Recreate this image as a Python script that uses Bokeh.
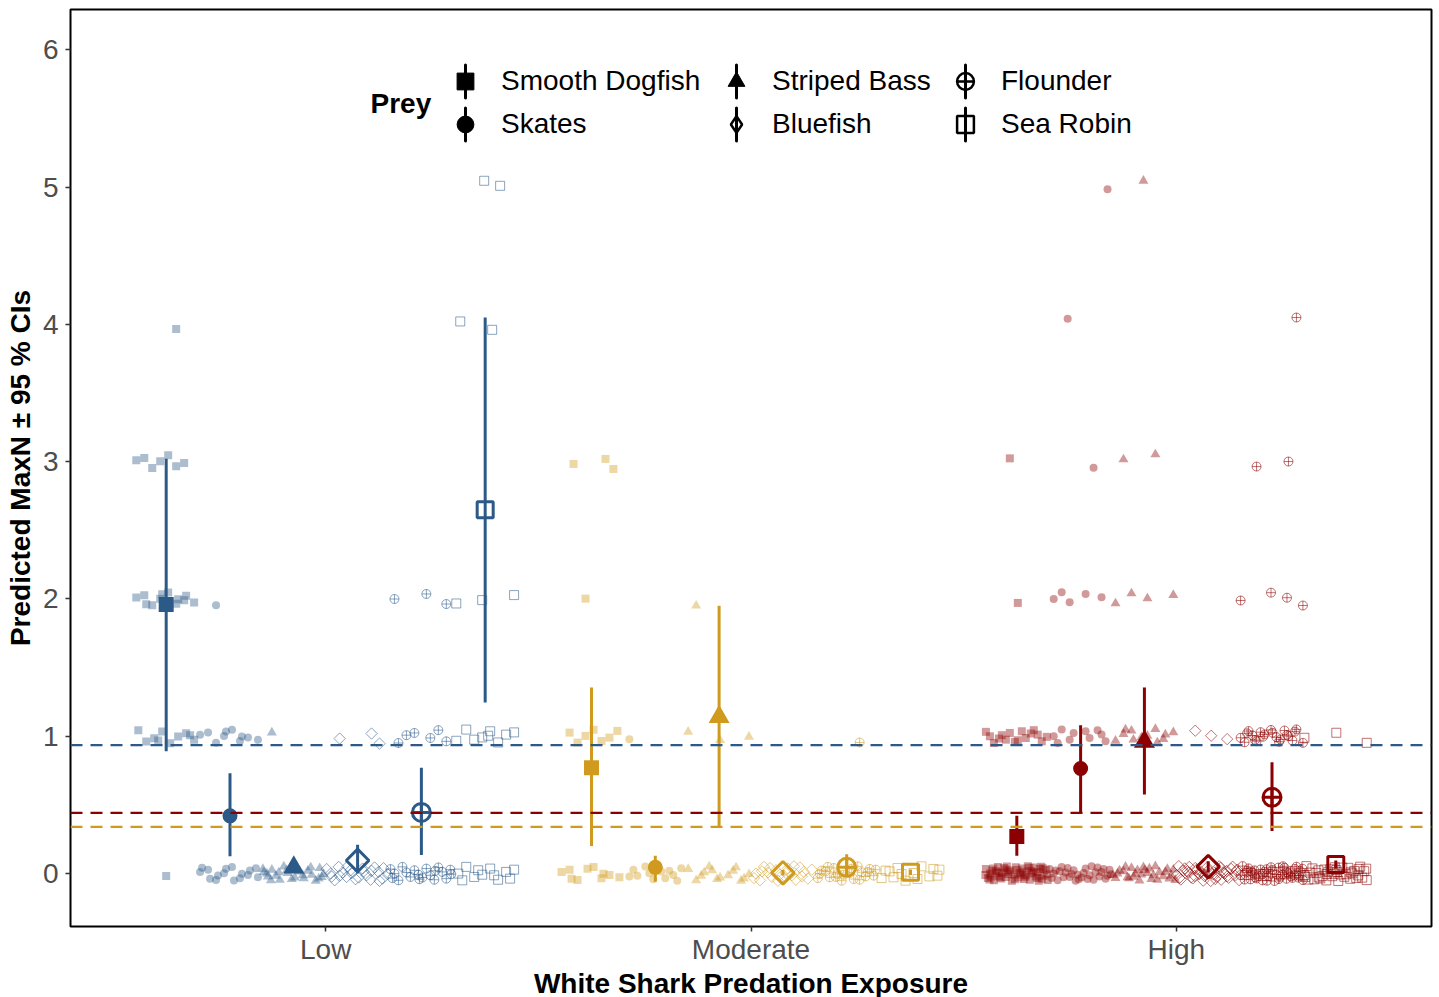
import numpy as np
from bokeh.plotting import figure
from bokeh.models import Range1d, Span, Legend, LegendItem, Label, FixedTicker
from bokeh.embed import file_html
from bokeh.resources import INLINE

# ---------------- data ----------------
exposure = ["Low", "Moderate", "High"]
prey = ["Smooth Dogfish", "Skates", "Striped Bass", "Bluefish", "Flounder", "Sea Robin"]
colors = ["#2c5a88", "#cf9a1e", "#8b0000"]

# predicted MaxN with 95 % CI (prey order as above)
pred_low = [1.96, 0.42, 0.045, 0.095, 0.445, 2.65]
lo_low = [0.89, 0.125, 0.02, 0.0, 0.135, 1.245]
hi_low = [3.02, 0.73, 0.07, 0.21, 0.77, 4.05]

pred_mod = [0.77, 0.045, 1.14, 0.005, 0.045, 0.01]
lo_mod = [0.20, -0.06, 0.345, -0.015, -0.02, -0.01]
hi_mod = [1.355, 0.13, 1.95, 0.025, 0.14, 0.03]

pred_high = [0.27, 0.765, 0.96, 0.05, 0.555, 0.065]
lo_high = [0.13, 0.44, 0.575, 0.01, 0.31, 0.035]
hi_high = [0.42, 1.08, 1.355, 0.09, 0.81, 0.095]

# overall mean level per exposure (dashed reference lines)
ref_low, ref_mod, ref_high = 0.935, 0.34, 0.442

# observed MaxN values and number of observations at each value
maxn_values = [0, 1, 2, 3, 4, 5]
counts_low = [
    [1, 10, 12, 7, 1, 0],    # Smooth Dogfish
    [16, 10, 1, 0, 0, 0],    # Skates
    [26, 1, 0, 0, 0, 0],     # Striped Bass
    [24, 3, 0, 0, 0, 0],     # Bluefish
    [20, 6, 3, 0, 0, 0],     # Flounder
    [12, 9, 3, 0, 2, 2],     # Sea Robin
]
counts_mod = [
    [10, 7, 1, 3, 0, 0],
    [12, 1, 0, 0, 0, 0],
    [14, 3, 1, 0, 0, 0],
    [22, 0, 0, 0, 0, 0],
    [22, 1, 0, 0, 0, 0],
    [14, 0, 0, 0, 0, 0],
]
counts_high = [
    [55, 16, 1, 1, 0, 0],
    [32, 10, 5, 1, 1, 1],
    [30, 12, 4, 2, 0, 1],
    [40, 3, 0, 0, 0, 0],
    [45, 22, 4, 2, 1, 0],
    [40, 3, 0, 0, 0, 0],
]

preds = [pred_low, pred_mod, pred_high]
los = [lo_low, lo_mod, lo_high]
his = [hi_low, hi_mod, hi_high]
counts = [counts_low, counts_mod, counts_high]
refs = [ref_low, ref_mod, ref_high]

# ---------------- styling ----------------
FONT = "Liberation Sans"
FS = "28px"
DODGE = 0.15
JIT_X = 0.15
JIT_Y = 0.11


def vdc(n, base):
    """van der Corput radical inverse (quasi-uniform jitter in [0, 1))."""
    q, denom = 0.0, 1.0
    while n > 0:
        n, rem = divmod(n, base)
        denom *= base
        q += rem / denom
    return q


# marker spec per prey: (marker, angle, filled, raw_size, pred_size)
mk = [
    ("square", 0.0, True, 8, 15),
    ("circle", 0.0, True, 8, 15),
    ("triangle", 0.0, True, 10, 21),
    ("square", np.pi / 4, False, 8, 16),
    ("circle_cross", 0.0, False, 9, 18),
    ("square", 0.0, False, 9, 16),
]
legend_markers = ["square", "circle", "triangle", "diamond", "circle_cross", "square"]

p = figure(
    frame_width=1361, frame_height=917,
    x_range=Range1d(0.4, 3.6), y_range=Range1d(-0.386, 6.293),
    output_backend="svg", toolbar_location=None,
    min_border_left=70, min_border_top=9, min_border_right=2, min_border_bottom=60,
    background_fill_color="white", border_fill_color="white",
)
p.xgrid.visible = False
p.ygrid.visible = False
p.outline_line_color = "black"
p.outline_line_width = 2
p.outline_line_alpha = 1

for ax in (p.xaxis[0], p.yaxis[0]):
    ax.axis_line_color = None
    ax.major_tick_line_color = "#333333"
    ax.major_tick_line_width = 1.5
    ax.major_tick_out = 5
    ax.major_tick_in = 0
    ax.minor_tick_line_color = None
    ax.major_label_text_font = FONT
    ax.major_label_text_font_size = FS
    ax.major_label_text_color = "#4d4d4d"
    ax.axis_label_text_font = FONT
    ax.axis_label_text_font_size = FS
    ax.axis_label_text_font_style = "bold"
    ax.axis_label_text_color = "black"

p.xaxis.ticker = FixedTicker(ticks=[1, 2, 3])
p.xaxis.major_label_overrides = {1: "Low", 2: "Moderate", 3: "High"}
p.xaxis.axis_label = "White Shark Predation Exposure"
p.xaxis.major_label_standoff = 2
p.xaxis.axis_label_standoff = 0
p.yaxis.ticker = FixedTicker(ticks=[0, 1, 2, 3, 4, 5, 6])
p.yaxis.axis_label = "Predicted MaxN \u00b1 95 % CIs"
p.yaxis.major_label_standoff = 7
p.yaxis.axis_label_standoff = 4

# ---------------- raw observations (jittered) ----------------
for gi, grp in enumerate(exposure):
    col = colors[gi]
    for k in range(len(prey)):
        marker, ang, filled, rsize, _ = mk[k]
        xs, ys = [], []
        for vi, v in enumerate(maxn_values):
            n = counts[gi][k][vi]
            start = 1 + 7 * k + 11 * gi + 5 * vi
            for j in range(n):
                fx = vdc(start + j, 2) - 0.5
                fy = vdc(start + j, 3) - 0.5
                xs.append(gi + 1 + (k - 2.5) * DODGE + fx * JIT_X)
                ys.append(v + fy * JIT_Y)
        if filled:
            p.scatter(xs, ys, marker=marker, angle=ang, size=rsize,
                      fill_color=col, fill_alpha=0.4, line_color=None)
        else:
            p.scatter(xs, ys, marker=marker, angle=ang, size=rsize,
                      fill_color=None, line_color=col, line_alpha=0.55, line_width=1)

# ---------------- reference lines ----------------
for gi in range(3):
    p.add_layout(Span(location=refs[gi], dimension="width", line_color=colors[gi],
                      line_width=2.2, line_dash="12 8"))

# ---------------- predictions with CIs ----------------
for gi in range(3):
    col = colors[gi]
    xs = [gi + 1 + (k - 2.5) * DODGE for k in range(len(prey))]
    p.segment(x0=xs, x1=xs, y0=los[gi], y1=his[gi], line_color=col, line_width=3)
    for k in range(len(prey)):
        marker, ang, filled, _, psize = mk[k]
        if filled:
            p.scatter([xs[k]], [preds[gi][k]], marker=marker, angle=ang, size=psize,
                      fill_color=col, line_color=None)
        else:
            p.scatter([xs[k]], [preds[gi][k]], marker=marker, angle=ang, size=psize,
                      fill_color=None, line_color=col, line_width=3)

# ---------------- legend ----------------
vline = p.ellipse(x=[np.nan], y=[np.nan], width=0.1, height=100,
                  width_units="screen", height_units="screen",
                  fill_color=None, line_color="black", line_width=3)
items = []
for k, name in enumerate(prey):
    filled = mk[k][2]
    if filled:
        r = p.scatter(x=[np.nan], y=[np.nan], marker=legend_markers[k], size=10,
                      fill_color="black", line_color="black", line_width=1)
    else:
        r = p.scatter(x=[np.nan], y=[np.nan], marker=legend_markers[k], size=10,
                      fill_color=None, line_color="black", line_width=2.5)
    items.append(LegendItem(label=name, renderers=[vline, r]))

for i, lx in enumerate([374, 645, 874]):
    leg = Legend(items=items[2 * i:2 * i + 2], location=(lx, 781), orientation="vertical",
                 glyph_width=42, glyph_height=42, label_standoff=15, spacing=1,
                 padding=0, margin=0, border_line_color=None, background_fill_alpha=0,
                 label_text_font=FONT, label_text_font_size=FS,
                 label_text_color="black", label_text_baseline="middle")
    p.add_layout(leg)

p.add_layout(Label(x=300, y=823, x_units="screen", y_units="screen", text="Prey",
                   text_font=FONT, text_font_size=FS, text_font_style="bold",
                   text_baseline="middle", text_align="left", text_color="black"))

open("out.html", "w").write(file_html(p, INLINE))
